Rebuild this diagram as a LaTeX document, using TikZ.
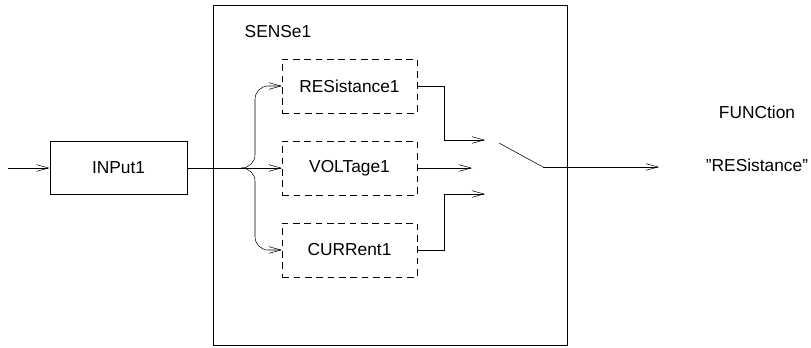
\documentclass[tikz,border=0pt]{standalone}
\usepackage{fontspec}
\setmainfont{Liberation Sans}
\usetikzlibrary{arrows.meta}

\tikzset{
  block/.style={draw, thin, minimum width=103pt, minimum height=40pt},
  subblock/.style={draw, thin, dash pattern=on 5pt off 3.5pt, minimum width=101pt, minimum height=40.5pt},
  sig/.style={thin, -{Straight Barb[length=9pt, width=5pt]}}
}

\begin{document}
\begin{tikzpicture}[x=0.75pt, y=-0.75pt, every node/.style={font=\fontsize{13}{15}\selectfont}]
  \useasboundingbox (0,0) rectangle (811,347);

  % subsystem frame
  \node[draw, thin, minimum width=265.5pt, minimum height=255pt] (sense) at (390,175) {};
  \node[anchor=west] (senselbl) at (240,32) {SENSe1};

  \node[block] (input) at (118.5,168) {INPut1};
  \coordinate (feed) at (8,168);

  \node[subblock] (res) at (349.5,86) {RESistance1};
  \node[subblock] (volt) at (349.5,168) {VOLTage1};
  \node[subblock] (curr) at (349.5,250) {CURRent1};

  % switch contacts
  \coordinate (cres) at (485,140);
  \coordinate (cvolt) at (472,168);
  \coordinate (ccurr) at (485,194);
  \coordinate (pole) at (499,143);
  \coordinate (pivot) at (543,167);
  \coordinate (out) at (659,167);
  \coordinate (split) at (243,168);

  \draw[sig] (feed) -- (input.west);
  \draw[sig] (input.east) -- (volt.west);
  \draw[sig, rounded corners=10] (split) -| (255,86) -- (res.west);
  \draw[sig, rounded corners=10] (split) -| (255,250) -- (curr.west);

  \draw[sig] (res.east) -| (444,140) -- (cres);
  \draw[sig] (volt.east) -- (cvolt);
  \draw[sig] (curr.east) -| (444,194) -- (ccurr);

  \draw[thin] (pole) -- (pivot);
  \draw[sig] (pivot) -- (out);

  \node (func) at (757,112) {FUNCtion};
  \node (funcval) at (757,165) {\symbol{34}RESistance\symbol{34}};
\end{tikzpicture}
\end{document}
